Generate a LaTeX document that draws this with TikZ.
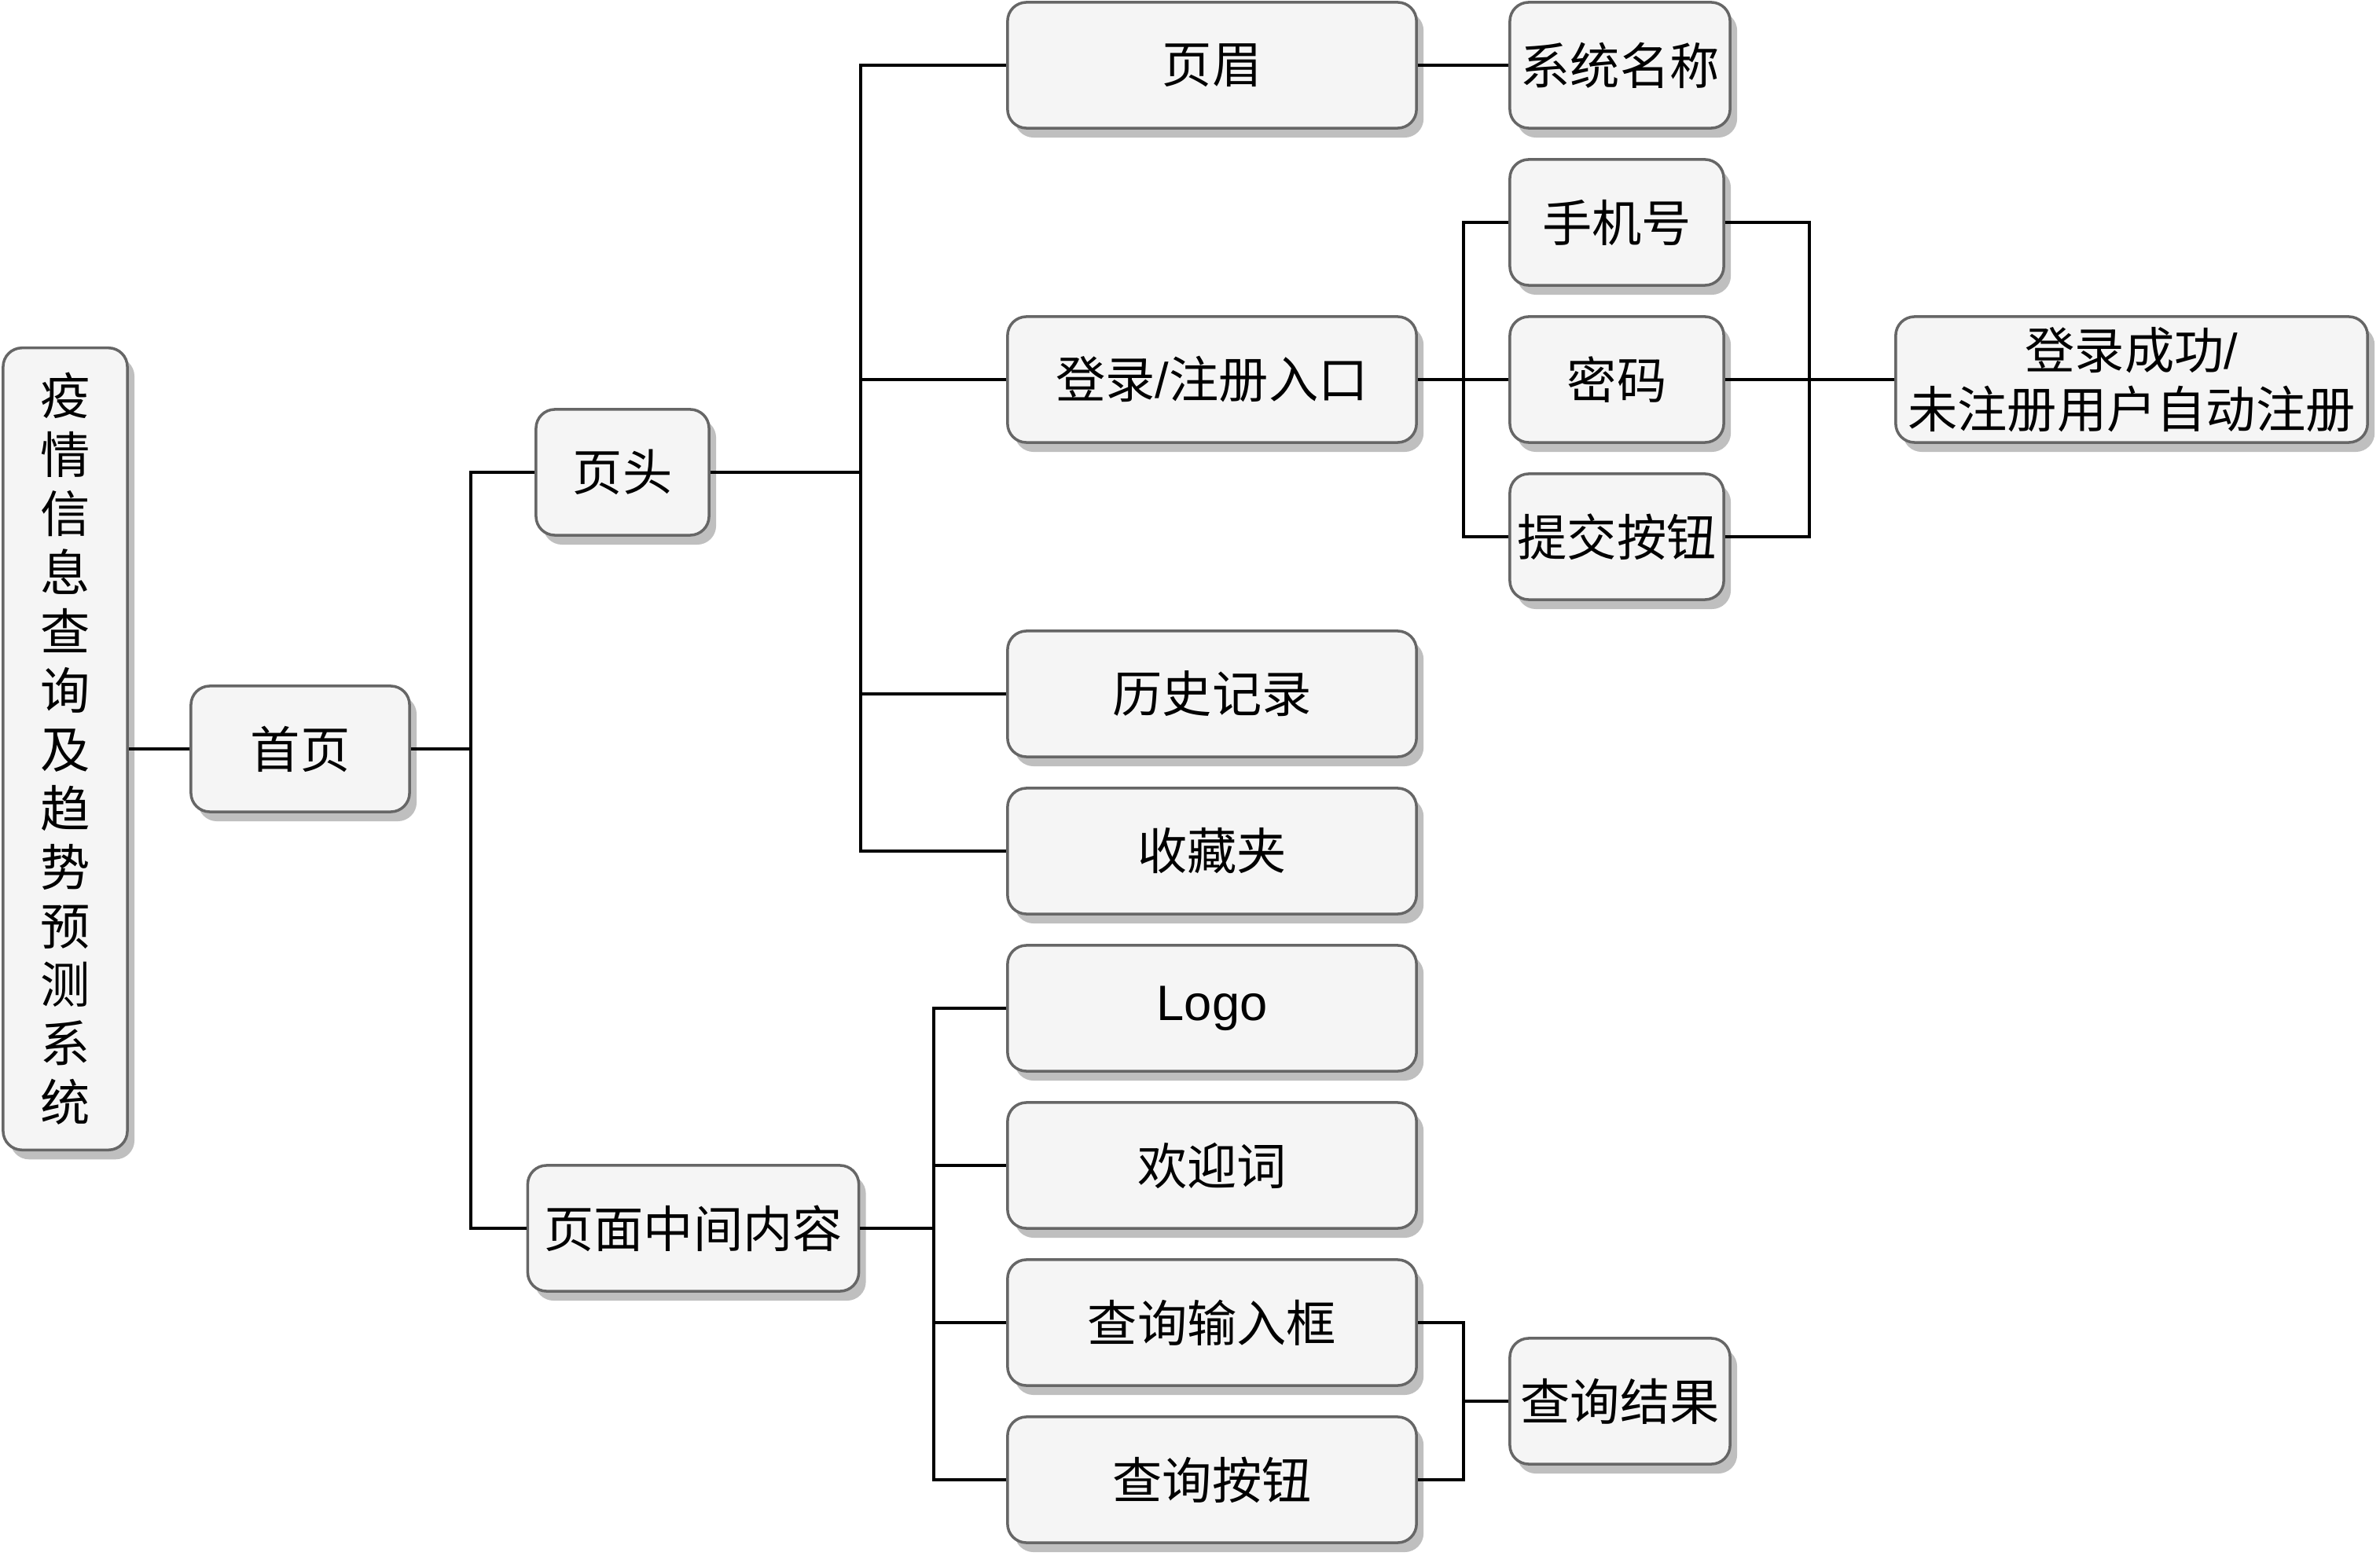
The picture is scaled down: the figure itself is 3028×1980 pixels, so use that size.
\documentclass[tikz,border=0pt]{standalone}
\usepackage{fontspec}
\setmainfont{Noto Sans CJK SC}
\newfontfamily\latinfont{Liberation Sans}
\usetikzlibrary{shadows}
\definecolor{boxfill}{HTML}{F5F5F5}
\definecolor{boxline}{HTML}{666666}
\definecolor{shadowc}{HTML}{BFBFBF}
\tikzset{
  box/.style={rectangle, rounded corners=0.24cm, draw=boxline, line width=1pt, fill=boxfill,
    drop shadow={shadow xshift=0.09cm, shadow yshift=-0.12cm, fill=shadowc, opacity=1},
    minimum height=1.6cm, inner sep=0pt, align=center, text=black,
    font=\fontsize{18}{21.3}\selectfont},
  wide/.style={minimum width=5.2cm},
  conn/.style={line width=1.1pt, black, line join=miter}
}
\begin{document}
\begin{tikzpicture}[x=0.01cm,y=-0.01cm]
\useasboundingbox (0,0) rectangle (3028,1980);
% nodes
\node[box, minimum width=1.58cm, minimum height=10.2cm] (root) at (83,953)
  {疫\\情\\信\\息\\查\\询\\及\\趋\\势\\预\\测\\系\\统};
\node[box, minimum width=2.78cm] (shouye) at (382,953) {首页};
\node[box, minimum width=2.2cm] (yetou) at (792,601) {页头};
\node[box, minimum width=4.21cm] (mid) at (882,1563) {页面中间内容};
\node[box, wide] (yemei) at (1542,83) {页眉};
\node[box, wide] (denglu) at (1542,483) {登录{\latinfont /}注册入口};
\node[box, wide] (lishi) at (1542,883) {历史记录};
\node[box, wide] (shoucang) at (1542,1083) {收藏夹};
\node[box, wide] (logo) at (1542,1283) {\latinfont Logo};
\node[box, wide] (huanying) at (1542,1483) {欢迎词};
\node[box, wide] (shuru) at (1542,1683) {查询输入框};
\node[box, wide] (anniu) at (1542,1883) {查询按钮};
\node[box, minimum width=2.8cm] (xitong) at (2061,83) {系统名称};
\node[box, minimum width=2.72cm] (shouji) at (2057,283) {手机号};
\node[box, minimum width=2.72cm] (mima) at (2057,483) {密码};
\node[box, minimum width=2.72cm] (tijiao) at (2057,683) {提交按钮};
\node[box, minimum width=6.0cm] (chenggong) at (2712,483) {登录成功{\latinfont /}\\未注册用户自动注册};
\node[box, minimum width=2.8cm] (jieguo) at (2061,1783) {查询结果};
% bus points
\coordinate (b1) at (599,953);
\coordinate (b2) at (1095,601);
\coordinate (b3) at (1188,1563);
\coordinate (b4) at (1862,483);
\coordinate (b5) at (2302,483);
\coordinate (b6) at (1862,1783);
% connectors
\draw[conn] (root.east) -- (shouye.west);
\draw[conn] (shouye.east) -- (b1);
\draw[conn] (b1) |- (yetou.west);
\draw[conn] (b1) |- (mid.west);
\draw[conn] (yetou.east) -- (b2);
\foreach \c in {yemei,denglu,lishi,shoucang} \draw[conn] (b2) |- (\c.west);
\draw[conn] (mid.east) -- (b3);
\foreach \c in {logo,huanying,shuru,anniu} \draw[conn] (b3) |- (\c.west);
\draw[conn] (yemei.east) -- (xitong.west);
\draw[conn] (denglu.east) -- (b4);
\foreach \c in {shouji,mima,tijiao} \draw[conn] (b4) |- (\c.west);
\draw[conn] (shouji.east) -| (b5);
\draw[conn] (tijiao.east) -| (b5);
\draw[conn] (mima.east) -- (b5);
\draw[conn] (b5) -- (chenggong.west);
\draw[conn] (shuru.east) -| (b6);
\draw[conn] (anniu.east) -| (b6);
\draw[conn] (b6) -- (jieguo.west);
\end{tikzpicture}
\end{document}
